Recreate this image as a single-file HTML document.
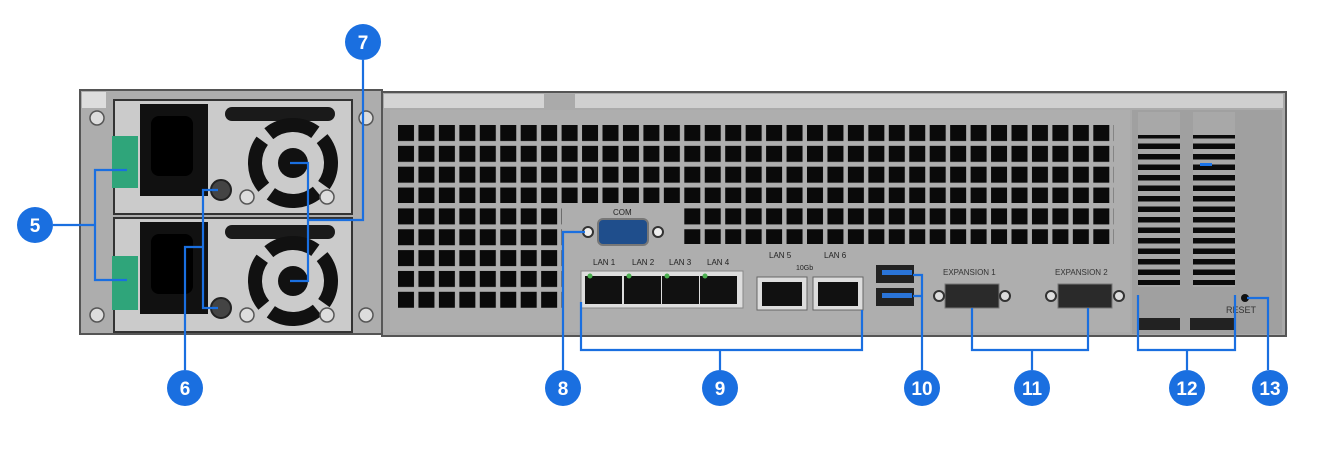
<!DOCTYPE html>
<html><head><style>body{margin:0;background:#fff}svg{display:block}</style></head><body>
<svg width="1318" height="450" viewBox="0 0 1318 450" xmlns="http://www.w3.org/2000/svg" font-family="Liberation Sans, sans-serif">
<defs>
<pattern id="vent" x="398" y="125" width="20.45" height="20.85" patternUnits="userSpaceOnUse"><rect width="16" height="16" fill="#0a0a0a"/></pattern>
<pattern id="slat" x="0" y="112" width="10" height="10.5" patternUnits="userSpaceOnUse"><rect width="10" height="5.5" fill="#0b0b0b"/></pattern>
</defs>
<!-- left PSU chassis -->
<rect x="80" y="90" width="302" height="244" fill="#adadad" stroke="#555" stroke-width="2"/>
<rect x="82" y="92" width="24" height="16" fill="#ddd"/>
<rect x="114" y="100" width="238" height="114" fill="#cbcbcb" stroke="#333" stroke-width="2"/>
<rect x="114" y="218" width="238" height="114" fill="#cbcbcb" stroke="#333" stroke-width="2"/>
<rect x="140" y="104" width="68" height="92" fill="#111"/>
<rect x="140" y="222" width="68" height="92" fill="#111"/>
<rect x="151" y="116" width="42" height="60" rx="8" fill="#000"/>
<rect x="151" y="234" width="42" height="60" rx="8" fill="#000"/>
<rect x="112" y="136" width="26" height="52" fill="#2fa57a"/>
<rect x="112" y="256" width="26" height="54" fill="#2fa57a"/>
<rect x="225" y="107" width="110" height="14" rx="7" fill="#1a1a1a"/>
<rect x="225" y="225" width="110" height="14" rx="7" fill="#1a1a1a"/>
<g fill="none" stroke="#111" stroke-width="14" stroke-dasharray="50 9.7">
<circle cx="293" cy="163" r="38" transform="rotate(-40 293 163)"/><circle cx="293" cy="281" r="38" transform="rotate(-40 293 281)"/></g>
<circle cx="293" cy="163" r="15" fill="#111"/><circle cx="293" cy="281" r="15" fill="#111"/>
<circle cx="221" cy="190" r="10" fill="#444" stroke="#222" stroke-width="2"/>
<circle cx="221" cy="308" r="10" fill="#444" stroke="#222" stroke-width="2"/>
<g fill="#ddd" stroke="#555" stroke-width="1.5">
<circle cx="97" cy="118" r="7"/><circle cx="97" cy="315" r="7"/><circle cx="366" cy="118" r="7"/><circle cx="366" cy="315" r="7"/>
<circle cx="247" cy="197" r="7"/><circle cx="327" cy="197" r="7"/><circle cx="247" cy="315" r="7"/><circle cx="327" cy="315" r="7"/>
<circle cx="563" cy="101" r="7"/></g>
<!-- main body -->
<rect x="382" y="92" width="904" height="244" fill="#aaaaaa" stroke="#555" stroke-width="2"/>
<rect x="384" y="94" width="160" height="14" fill="#d4d4d4"/>
<rect x="575" y="94" width="708" height="14" fill="#cfcfcf"/>
<rect x="390" y="110" width="740" height="222" fill="#aeaeae"/>
<rect x="398" y="125" width="716" height="78" fill="url(#vent)"/>
<rect x="398" y="204" width="164" height="104" fill="url(#vent)"/>
<rect x="684" y="204" width="430" height="40" fill="url(#vent)"/>
<!-- right section -->
<rect x="1132" y="110" width="150" height="224" fill="#a0a0a0"/>
<rect x="1138" y="112" width="42" height="175" fill="#a8a8a8"/>
<rect x="1193" y="112" width="42" height="175" fill="#a8a8a8"/>
<rect x="1138" y="135" width="42" height="150" fill="url(#slat)"/>
<rect x="1193" y="135" width="42" height="150" fill="url(#slat)"/>
<rect x="1200" y="163" width="12" height="3" fill="#1a73e8"/>
<rect x="1138" y="318" width="42" height="12" fill="#222"/>
<rect x="1190" y="318" width="44" height="12" fill="#222"/>
<circle cx="1245" cy="298" r="4" fill="#111"/>
<text x="1226" y="313" font-size="9" fill="#333">RESET</text>
<!-- COM -->
<text x="613" y="215" font-size="8" fill="#222">COM</text>
<rect x="598" y="219" width="50" height="26" rx="5" fill="#1f4e8c" stroke="#777" stroke-width="2"/>
<circle cx="588" cy="232" r="5" fill="#eee" stroke="#333" stroke-width="2"/>
<circle cx="658" cy="232" r="5" fill="#eee" stroke="#333" stroke-width="2"/>
<!-- LAN -->
<g font-size="8" fill="#222"><text x="593" y="265">LAN 1</text><text x="632" y="265">LAN 2</text><text x="669" y="265">LAN 3</text><text x="707" y="265">LAN 4</text>
<text x="769" y="258">LAN 5</text><text x="824" y="258">LAN 6</text><text x="796" y="270" font-size="7">10Gb</text></g>
<rect x="581" y="271" width="162" height="37" fill="#ddd" stroke="#888"/>
<g fill="#111"><rect x="585" y="276" width="37" height="28"/><rect x="624" y="276" width="37" height="28"/><rect x="662" y="276" width="37" height="28"/><rect x="700" y="276" width="37" height="28"/>
<rect x="757" y="277" width="50" height="33" fill="#ddd" stroke="#666"/><rect x="813" y="277" width="50" height="33" fill="#ddd" stroke="#666"/>
<rect x="762" y="282" width="40" height="24"/><rect x="818" y="282" width="40" height="24"/></g>
<g fill="#4caf50"><circle cx="590" cy="276" r="2.5"/><circle cx="629" cy="276" r="2.5"/><circle cx="667" cy="276" r="2.5"/><circle cx="705" cy="276" r="2.5"/></g>
<!-- USB -->
<rect x="876" y="265" width="38" height="18" fill="#222"/><rect x="876" y="288" width="38" height="18" fill="#222"/>
<rect x="882" y="270" width="30" height="5" fill="#2a74d8"/><rect x="882" y="293" width="30" height="5" fill="#2a74d8"/>
<!-- Expansion -->
<g font-size="8" fill="#333"><text x="943" y="275">EXPANSION 1</text><text x="1055" y="275">EXPANSION 2</text></g>
<rect x="945" y="284" width="54" height="24" fill="#2a2a2a" stroke="#777"/>
<rect x="1058" y="284" width="54" height="24" fill="#2a2a2a" stroke="#777"/>
<g fill="#ddd" stroke="#333" stroke-width="2"><circle cx="939" cy="296" r="5"/><circle cx="1005" cy="296" r="5"/><circle cx="1051" cy="296" r="5"/><circle cx="1119" cy="296" r="5"/></g>
<!-- callout lines -->
<g fill="none" stroke="#1a6fe0" stroke-width="2.2">
<path d="M53 225H95M127 170H95V280H127"/>
<path d="M363 60V220H308M290 163H308V281H290"/>
<path d="M185 370V247H203M218 190H203V308H218"/>
<path d="M563 370V232H585"/>
<path d="M581 302V350H862V310M720 350V370"/>
<path d="M913 275H922V370M913 296H922"/>
<path d="M972 308V350H1088V308M1032 350V370"/>
<path d="M1138 295V350H1235V295M1187 350V370"/>
<path d="M1268 370V298H1247"/>
</g>
<g fill="#1a6fe0"><circle cx="35" cy="225" r="18"/><circle cx="185" cy="388" r="18"/><circle cx="363" cy="42" r="18"/><circle cx="563" cy="388" r="18"/><circle cx="720" cy="388" r="18"/><circle cx="922" cy="388" r="18"/><circle cx="1032" cy="388" r="18"/><circle cx="1187" cy="388" r="18"/><circle cx="1270" cy="388" r="18"/></g>
<g fill="#fff" font-size="19" font-weight="bold" text-anchor="middle">
<text x="35" y="232">5</text><text x="185" y="395">6</text><text x="363" y="49">7</text><text x="563" y="395">8</text><text x="720" y="395">9</text><text x="922" y="395">10</text><text x="1032" y="395">11</text><text x="1187" y="395">12</text><text x="1270" y="395">13</text></g>
</svg>
</body></html>
